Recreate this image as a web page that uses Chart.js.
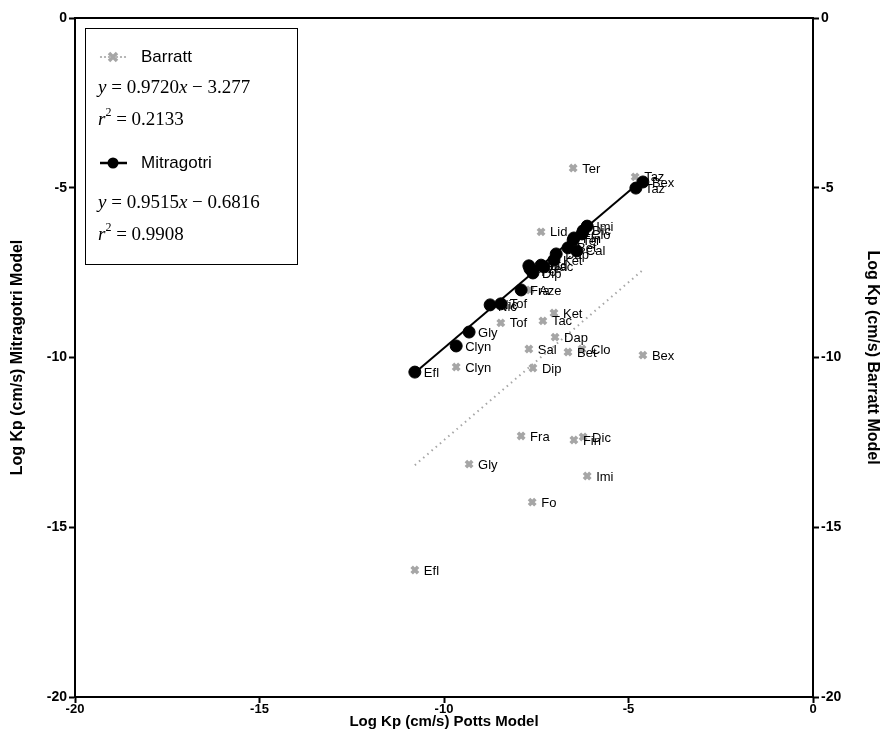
<!DOCTYPE html>
<html><head><meta charset="utf-8">
<script src="https://cdn.jsdelivr.net/npm/chart.js@4.4.1/dist/chart.umd.min.js"></script>
<style>html,body{margin:0;padding:0;background:#fff}#wrap{width:889px;height:729px;position:relative}</style>
</head><body><div id="wrap"><canvas id="c" width="889" height="729"></canvas></div>
<script>
// Barratt model (grey crosses): Potts log Kp (x) vs Barratt log Kp (y)
const barrattLabels = ["Ter","Taz","Bex","Lid","Aze","Nic","Tof","Ket","Tac","Dap","Sal","Bet","Clo","Dip","Clyn","Fra","Fin","Dic","Imi","Gly","Fo","Efl"];
const barrattX = [-6.50,-4.82,-4.61,-7.37,-7.67,-8.78,-8.46,-7.02,-7.32,-6.99,-7.70,-6.64,-6.26,-7.59,-9.67,-7.91,-6.48,-6.23,-6.12,-9.32,-7.61,-10.79];
const barrattY = [-4.42,-4.68,-9.93,-6.30,-8.01,-8.51,-8.98,-8.69,-8.92,-9.40,-9.75,-9.84,-9.75,-10.31,-10.28,-12.31,-12.43,-12.34,-13.49,-13.14,-14.26,-16.26];
// Mitragotri model (black circles)
const mitLabels = ["Efl","Clyn","Gly","Nic","Tof","Fra","Sal","Aze","Fo","Dip","Lid","Tac","Ket","Dap","Bet","Cal","Ter","Fin","Clo","Dic","Imi","Taz","Bex"];
const mitX = [-10.79,-9.67,-9.32,-8.75,-8.46,-7.91,-7.70,-7.67,-7.61,-7.59,-7.37,-7.29,-7.02,-6.96,-6.64,-6.40,-6.50,-6.48,-6.26,-6.23,-6.12,-4.80,-4.61];
const mitY = [-10.43,-9.66,-9.25,-8.45,-8.42,-8.01,-7.30,-7.39,-7.45,-7.51,-7.28,-7.33,-7.13,-6.95,-6.77,-6.86,-6.54,-6.48,-6.36,-6.27,-6.13,-5.01,-4.83];
// Regression lines (end points)
const barrattFitX = [-10.79,-4.64];
const barrattFitY = [-13.17,-7.45];
const mitFitX = [-10.79,-4.55];
const mitFitY = [-10.45,-4.70];
// Axis
const axisMin = -20, axisMax = 0, axisStep = 5;
const xTitle = "Log Kp (cm/s) Potts Model";
const yTitle = "Log Kp (cm/s) Mitragotri Model";
const y2Title = "Log Kp (cm/s) Barratt Model";

const pts = (xs, ys) => xs.map((x, i) => ({x, y: ys[i]}));
const GREY = '#a6a6a6';

const labelPlugin = {
  id: 'pointLabels',
  afterDatasetsDraw(chart) {
    const ctx = chart.ctx;
    ctx.save();
    ctx.font = '13px "Liberation Sans", Arial, sans-serif';
    ctx.fillStyle = '#000';
    ctx.textBaseline = 'middle';
    ctx.textAlign = 'left';
    chart.data.datasets.forEach((ds, di) => {
      if (!ds.pointLabels) return;
      const meta = chart.getDatasetMeta(di);
      meta.data.forEach((el, i) => {
        ctx.fillText(ds.pointLabels[i], el.x + 9, el.y + 1);
      });
    });
    ctx.restore();
  }
};

function drawEq(ctx, x, y, parts) {
  let cx = x;
  parts.forEach(p => {
    ctx.font = (p.i ? 'italic ' : '') + (p.s ? '12px' : '19px') + ' "Liberation Serif", "Times New Roman", serif';
    ctx.fillText(p.t, cx, y + (p.s ? -7 : 0));
    cx += ctx.measureText(p.t).width;
  });
}

const decorPlugin = {
  id: 'decor',
  afterDraw(chart) {
    const ctx = chart.ctx;
    const a = chart.chartArea;
    ctx.save();
    // top frame line
    ctx.strokeStyle = '#000'; ctx.lineWidth = 2;
    ctx.beginPath(); ctx.moveTo(a.left - 1, a.top); ctx.lineTo(a.right + 1, a.top); ctx.stroke();
    // axis titles
    ctx.fillStyle = '#000';
    ctx.font = 'bold 16px "Liberation Sans", Arial, sans-serif';
    ctx.textAlign = 'center'; ctx.textBaseline = 'middle';
    ctx.save(); ctx.translate(18, (a.top + a.bottom) / 2); ctx.rotate(-Math.PI / 2);
    ctx.fillText(yTitle, 0, 0); ctx.restore();
    ctx.save(); ctx.translate(872, (a.top + a.bottom) / 2); ctx.rotate(Math.PI / 2);
    ctx.fillText(y2Title, 0, 0); ctx.restore();
    ctx.font = 'bold 15px "Liberation Sans", Arial, sans-serif';
    ctx.fillText(xTitle, (a.left + a.right) / 2, 722);
    // legend box
    ctx.lineWidth = 1; ctx.strokeStyle = '#000';
    ctx.strokeRect(85.5, 28.5, 212, 236);
    // Barratt sample
    ctx.fillStyle = GREY;
    for (let x = 101; x <= 127; x += 4) { ctx.beginPath(); ctx.arc(x, 57, 1.1, 0, Math.PI * 2); ctx.fill(); }
    ctx.strokeStyle = GREY; ctx.lineWidth = 3.5;
    ctx.beginPath(); ctx.moveTo(109, 53); ctx.lineTo(117, 61); ctx.moveTo(117, 53); ctx.lineTo(109, 61); ctx.stroke();
    ctx.fillStyle = '#000';
    ctx.font = '17px "Liberation Sans", Arial, sans-serif';
    ctx.textAlign = 'left'; ctx.textBaseline = 'middle';
    ctx.fillText('Barratt', 141, 57);
    drawEq(ctx, 98, 88, [{t:'y',i:1},{t:' = 0.9720'},{t:'x',i:1},{t:' \u2212 3.277'}]);
    drawEq(ctx, 98, 120, [{t:'r',i:1},{t:'2',s:1},{t:' = 0.2133'}]);
    // Mitragotri sample
    ctx.strokeStyle = '#000'; ctx.lineWidth = 2.5;
    ctx.beginPath(); ctx.moveTo(100, 163); ctx.lineTo(127, 163); ctx.stroke();
    ctx.beginPath(); ctx.arc(113, 163, 5.5, 0, Math.PI * 2); ctx.fill();
    ctx.font = '17px "Liberation Sans", Arial, sans-serif';
    ctx.fillText('Mitragotri', 141, 163);
    drawEq(ctx, 98, 203, [{t:'y',i:1},{t:' = 0.9515'},{t:'x',i:1},{t:' \u2212 0.6816'}]);
    drawEq(ctx, 98, 235, [{t:'r',i:1},{t:'2',s:1},{t:' = 0.9908'}]);
    ctx.restore();
  }
};

const tickFont = {family: '"Liberation Sans", Arial, sans-serif', size: 14, weight: 'bold'};
const axisCommon = {
  type: 'linear', min: axisMin, max: axisMax,
  ticks: {stepSize: axisStep, color: '#000', font: tickFont, padding: 2},
  grid: {display: true, drawOnChartArea: false, drawTicks: true, tickLength: 6, tickColor: '#000', tickWidth: 2},
  border: {display: true, color: '#000', width: 2}
};

new Chart(document.getElementById('c'), {
  type: 'scatter',
  data: {
    datasets: [
      {label: 'Barratt fit', data: pts(barrattFitX, barrattFitY), showLine: true, borderColor: GREY,
       borderWidth: 2, borderDash: [1.5, 4], pointRadius: 0, yAxisID: 'y2', order: 3},
      {label: 'Barratt', data: pts(barrattX, barrattY), pointStyle: 'crossRot', pointRadius: 4.5,
       borderColor: GREY, backgroundColor: GREY, pointBorderWidth: 3.6, yAxisID: 'y2', pointLabels: barrattLabels, order: 2},
      {label: 'Mitragotri fit', data: pts(mitFitX, mitFitY), showLine: true, borderColor: '#000',
       borderWidth: 2, pointRadius: 0, yAxisID: 'y', order: 1},
      {label: 'Mitragotri', data: pts(mitX, mitY), pointStyle: 'circle', pointRadius: 6,
       borderColor: '#000', backgroundColor: '#000', pointBorderWidth: 1, yAxisID: 'y', pointLabels: mitLabels, order: 0}
    ]
  },
  options: {
    responsive: false, animation: false, devicePixelRatio: 1,
    layout: {padding: {left: 0, right: 0, top: 18, bottom: 0}},
    plugins: {legend: {display: false}, tooltip: {enabled: false}},
    scales: {
      x: Object.assign({}, axisCommon, {position: 'bottom', afterFit: s => { s.height = 32; },
        ticks: {stepSize: axisStep, color: '#000', font: {family: '"Liberation Sans", Arial, sans-serif', size: 13, weight: 'bold'}, padding: -1}}),
      y: Object.assign({}, axisCommon, {position: 'left', afterFit: s => { s.width = 75; }}),
      y2: Object.assign({}, axisCommon, {position: 'right', afterFit: s => { s.width = 76; }})
    }
  },
  plugins: [labelPlugin, decorPlugin]
});
</script>
</body></html>
